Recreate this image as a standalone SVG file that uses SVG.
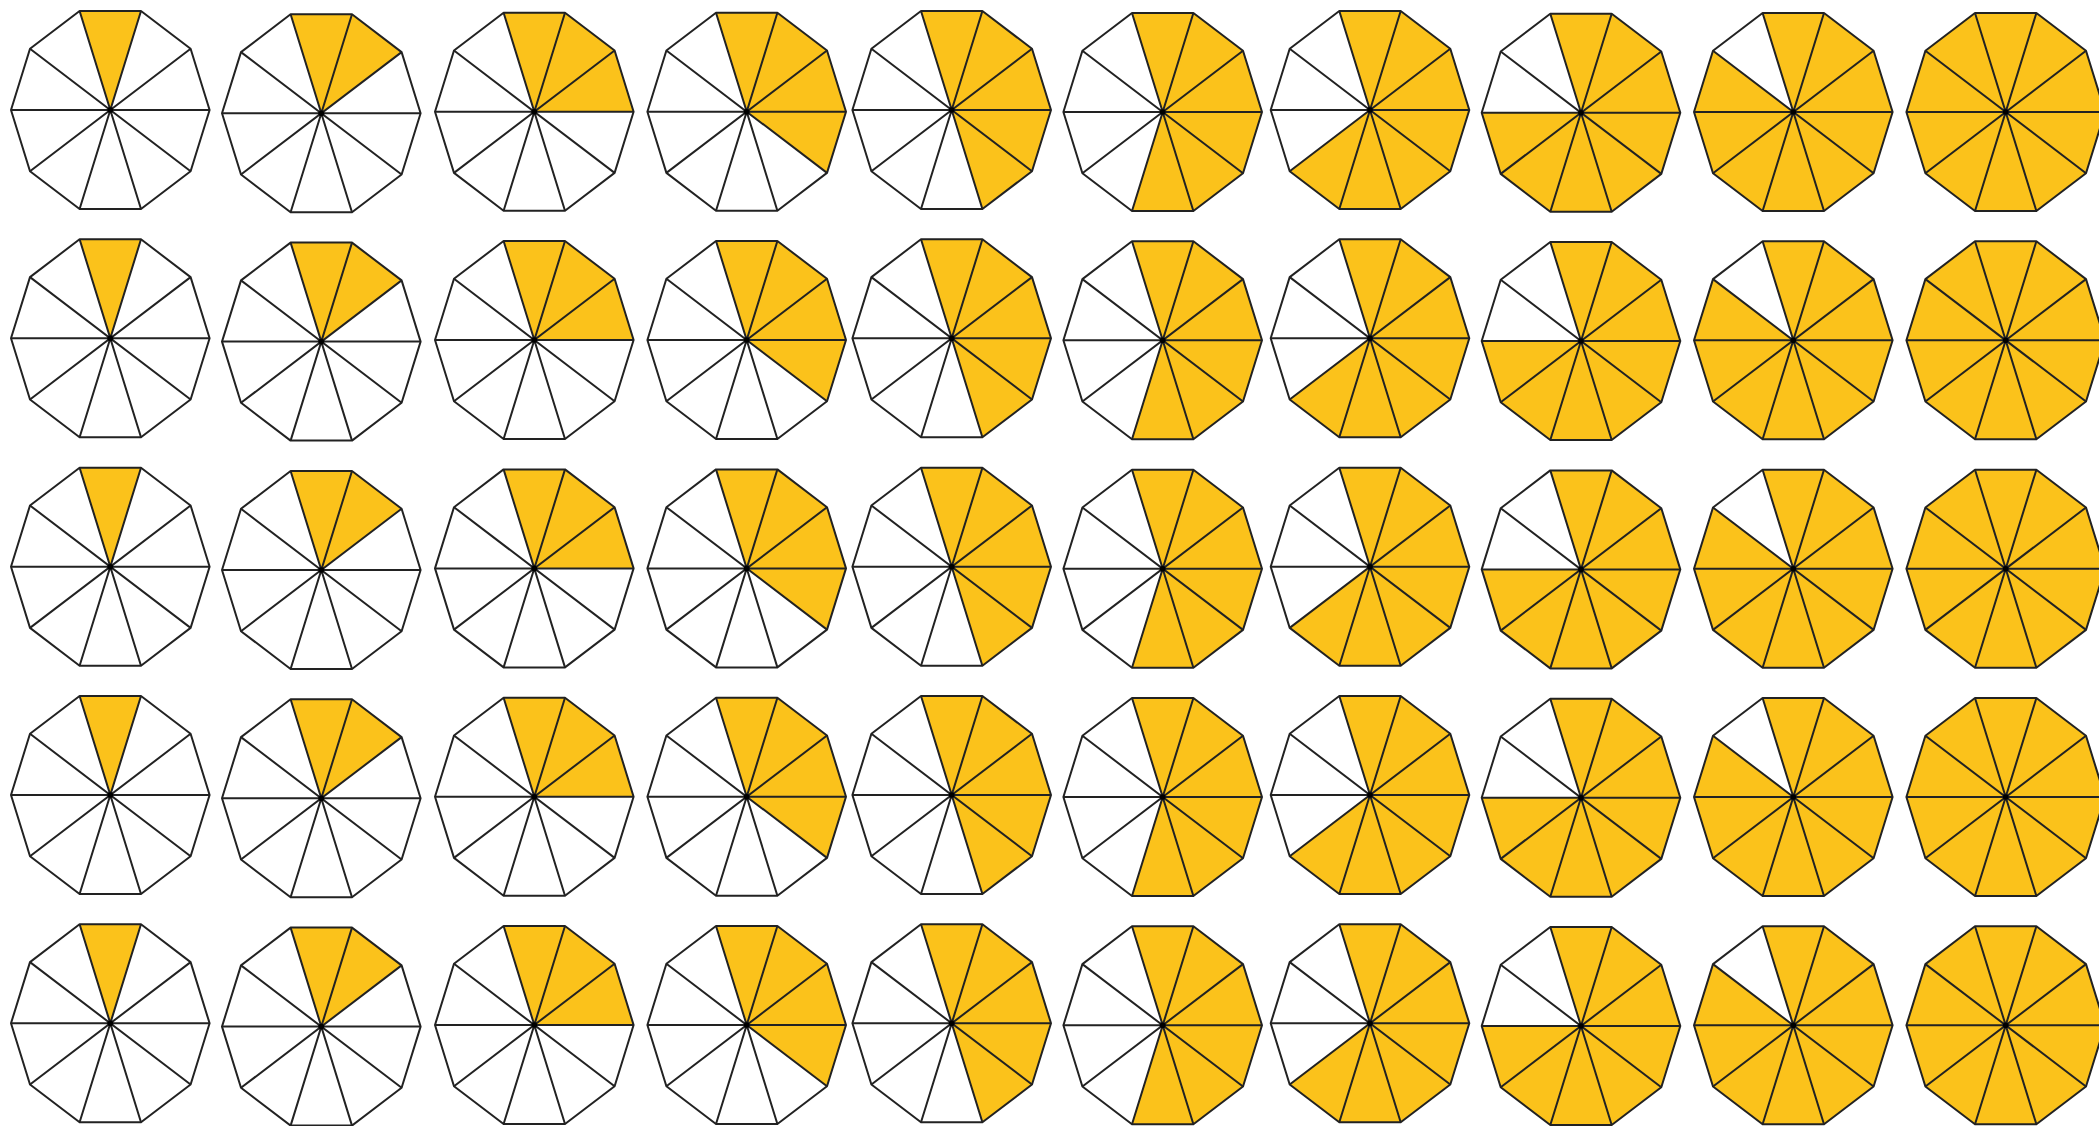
<svg xmlns="http://www.w3.org/2000/svg" xmlns:xlink="http://www.w3.org/1999/xlink" width="2099" height="1126" viewBox="0 0 2099 1126">
<style>
.base{fill:#ffffff;stroke:none}
.y{fill:#FBC21B;stroke:none}
.ln{fill:none;stroke:#222222;stroke-width:2;stroke-linejoin:round}
.dot{fill:#000000}
</style>
<defs>
<polygon id="deca" points="99.3,0 80.3,61.2 30.7,99 -30.7,99 -80.3,61.2 -99.3,0 -80.3,-61.2 -30.7,-99 30.7,-99 80.3,-61.2"/>
<g id="lines">
<use href="#deca" class="ln"/>
<path class="ln" d="M99.3,0 L-99.3,0 M80.3,61.2 L-80.3,-61.2 M30.7,99 L-30.7,-99 M-30.7,99 L30.7,-99 M-80.3,61.2 L80.3,-61.2"/>
<circle class="dot" cx="0" cy="0" r="2.8"/>
</g>
<g id="c1"><use href="#deca" class="base"/><polygon class="y" points="0,0 -30.7,-99 30.7,-99"/><use href="#lines"/></g>
<g id="c2"><use href="#deca" class="base"/><polygon class="y" points="0,0 -30.7,-99 30.7,-99 80.3,-61.2"/><use href="#lines"/></g>
<g id="c3"><use href="#deca" class="base"/><polygon class="y" points="0,0 -30.7,-99 30.7,-99 80.3,-61.2 99.3,0"/><use href="#lines"/></g>
<g id="c4"><use href="#deca" class="base"/><polygon class="y" points="0,0 -30.7,-99 30.7,-99 80.3,-61.2 99.3,0 80.3,61.2"/><use href="#lines"/></g>
<g id="c5"><use href="#deca" class="base"/><polygon class="y" points="0,0 -30.7,-99 30.7,-99 80.3,-61.2 99.3,0 80.3,61.2 30.7,99"/><use href="#lines"/></g>
<g id="c6"><use href="#deca" class="base"/><polygon class="y" points="0,0 -30.7,-99 30.7,-99 80.3,-61.2 99.3,0 80.3,61.2 30.7,99 -30.7,99"/><use href="#lines"/></g>
<g id="c7"><use href="#deca" class="base"/><polygon class="y" points="0,0 -30.7,-99 30.7,-99 80.3,-61.2 99.3,0 80.3,61.2 30.7,99 -30.7,99 -80.3,61.2"/><use href="#lines"/></g>
<g id="c8"><use href="#deca" class="base"/><polygon class="y" points="0,0 -30.7,-99 30.7,-99 80.3,-61.2 99.3,0 80.3,61.2 30.7,99 -30.7,99 -80.3,61.2 -99.3,0"/><use href="#lines"/></g>
<g id="c9"><use href="#deca" class="base"/><polygon class="y" points="0,0 -30.7,-99 30.7,-99 80.3,-61.2 99.3,0 80.3,61.2 30.7,99 -30.7,99 -80.3,61.2 -99.3,0 -80.3,-61.2"/><use href="#lines"/></g>
<g id="c10"><use href="#deca" class="y"/><use href="#lines"/></g>
</defs>
<rect width="2099" height="1126" fill="#ffffff"/>
<g id="row1" transform="translate(0,110)">
<use id="r1c1" href="#c1" x="110.3" y="0"/>
<use id="r1c2" href="#c2" x="321.3" y="3.3"/>
<use id="r1c3" href="#c3" x="534.3" y="1.7"/>
<use id="r1c4" href="#c4" x="746.7" y="1.7"/>
<use id="r1c5" href="#c5" x="951.7" y="0"/>
<use id="r1c6" href="#c6" x="1162.7" y="2"/>
<use id="r1c7" href="#c7" x="1370" y="0"/>
<use id="r1c8" href="#c8" x="1581" y="2.7"/>
<use id="r1c9" href="#c9" x="1793.3" y="2"/>
<use id="r1c10" href="#c10" x="2005.7" y="2"/>
</g>
<g id="row2" transform="translate(0,338.3)">
<use id="r2c1" href="#c1" x="110.3" y="0"/>
<use id="r2c2" href="#c2" x="321.3" y="3.3"/>
<use id="r2c3" href="#c3" x="534.3" y="1.7"/>
<use id="r2c4" href="#c4" x="746.7" y="1.7"/>
<use id="r2c5" href="#c5" x="951.7" y="0"/>
<use id="r2c6" href="#c6" x="1162.7" y="2"/>
<use id="r2c7" href="#c7" x="1370" y="0"/>
<use id="r2c8" href="#c8" x="1581" y="2.7"/>
<use id="r2c9" href="#c9" x="1793.3" y="2"/>
<use id="r2c10" href="#c10" x="2005.7" y="2"/>
</g>
<g id="row3" transform="translate(0,566.7)">
<use id="r3c1" href="#c1" x="110.3" y="0"/>
<use id="r3c2" href="#c2" x="321.3" y="3.3"/>
<use id="r3c3" href="#c3" x="534.3" y="1.7"/>
<use id="r3c4" href="#c4" x="746.7" y="1.7"/>
<use id="r3c5" href="#c5" x="951.7" y="0"/>
<use id="r3c6" href="#c6" x="1162.7" y="2"/>
<use id="r3c7" href="#c7" x="1370" y="0"/>
<use id="r3c8" href="#c8" x="1581" y="2.7"/>
<use id="r3c9" href="#c9" x="1793.3" y="2"/>
<use id="r3c10" href="#c10" x="2005.7" y="2"/>
</g>
<g id="row4" transform="translate(0,795)">
<use id="r4c1" href="#c1" x="110.3" y="0"/>
<use id="r4c2" href="#c2" x="321.3" y="3.3"/>
<use id="r4c3" href="#c3" x="534.3" y="1.7"/>
<use id="r4c4" href="#c4" x="746.7" y="1.7"/>
<use id="r4c5" href="#c5" x="951.7" y="0"/>
<use id="r4c6" href="#c6" x="1162.7" y="2"/>
<use id="r4c7" href="#c7" x="1370" y="0"/>
<use id="r4c8" href="#c8" x="1581" y="2.7"/>
<use id="r4c9" href="#c9" x="1793.3" y="2"/>
<use id="r4c10" href="#c10" x="2005.7" y="2"/>
</g>
<g id="row5" transform="translate(0,1023.3)">
<use id="r5c1" href="#c1" x="110.3" y="0"/>
<use id="r5c2" href="#c2" x="321.3" y="3.3"/>
<use id="r5c3" href="#c3" x="534.3" y="1.7"/>
<use id="r5c4" href="#c4" x="746.7" y="1.7"/>
<use id="r5c5" href="#c5" x="951.7" y="0"/>
<use id="r5c6" href="#c6" x="1162.7" y="2"/>
<use id="r5c7" href="#c7" x="1370" y="0"/>
<use id="r5c8" href="#c8" x="1581" y="2.7"/>
<use id="r5c9" href="#c9" x="1793.3" y="2"/>
<use id="r5c10" href="#c10" x="2005.7" y="2"/>
</g>
</svg>
